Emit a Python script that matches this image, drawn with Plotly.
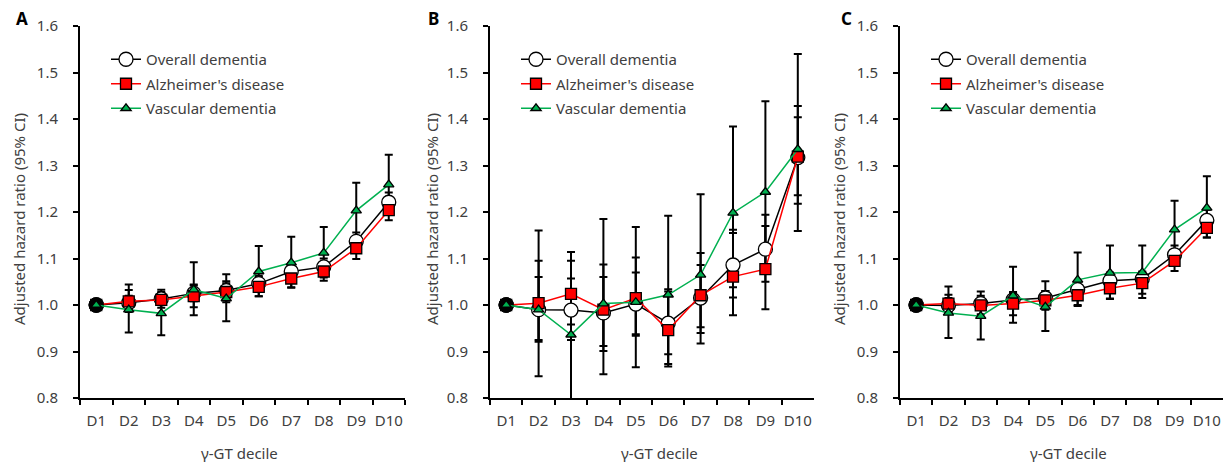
import plotly.graph_objects as go

deciles = ["D1", "D2", "D3", "D4", "D5", "D6", "D7", "D8", "D9", "D10"]
series_names = ["Overall dementia", "Alzheimer's disease", "Vascular dementia"]
panel_labels = ["A", "B", "C"]
y_ticks = [0.8, 0.9, 1.0, 1.1, 1.2, 1.3, 1.4, 1.5, 1.6]

# Panel A
a_overall = [1.0, 1.005, 1.013, 1.025, 1.031, 1.046, 1.072, 1.082, 1.137, 1.221]
a_overall_lo = [1.0, 0.990, 1.000, 1.008, 1.015, 1.030, 1.055, 1.065, 1.118, 1.200]
a_overall_hi = [1.0, 1.020, 1.026, 1.042, 1.047, 1.063, 1.090, 1.100, 1.156, 1.242]
a_ad = [1.0, 1.008, 1.011, 1.019, 1.028, 1.039, 1.057, 1.072, 1.122, 1.204]
a_ad_lo = [1.0, 0.985, 0.994, 0.995, 1.006, 1.019, 1.037, 1.052, 1.099, 1.182]
a_ad_hi = [1.0, 1.032, 1.028, 1.044, 1.051, 1.060, 1.078, 1.092, 1.145, 1.227]
a_vd = [1.0, 0.990, 0.982, 1.033, 1.014, 1.072, 1.091, 1.112, 1.203, 1.259]
a_vd_lo = [1.0, 0.941, 0.935, 0.978, 0.965, 1.019, 1.038, 1.059, 1.146, 1.198]
a_vd_hi = [1.0, 1.044, 1.033, 1.092, 1.066, 1.127, 1.147, 1.168, 1.263, 1.323]

# Panel B
b_overall = [1.0, 0.990, 0.989, 0.983, 1.002, 0.961, 1.015, 1.086, 1.120, 1.317]
b_overall_lo = [1.0, 0.925, 0.925, 0.912, 0.937, 0.894, 0.952, 1.016, 1.050, 1.236]
b_overall_hi = [1.0, 1.060, 1.057, 1.060, 1.070, 1.034, 1.086, 1.162, 1.194, 1.404]
b_ad = [1.0, 1.004, 1.024, 0.990, 1.015, 0.946, 1.021, 1.061, 1.077, 1.319]
b_ad_lo = [1.0, 0.921, 0.958, 0.901, 0.934, 0.868, 0.940, 0.978, 0.991, 1.218]
b_ad_hi = [1.0, 1.095, 1.095, 1.087, 1.102, 1.029, 1.112, 1.155, 1.170, 1.428]
b_vd = [1.0, 0.990, 0.936, 1.003, 1.006, 1.022, 1.065, 1.198, 1.243, 1.335]
b_vd_lo = [1.0, 0.847, 0.786, 0.851, 0.866, 0.873, 0.917, 1.038, 1.074, 1.159]
b_vd_hi = [1.0, 1.160, 1.114, 1.185, 1.168, 1.192, 1.238, 1.384, 1.438, 1.540]

# Panel C
c_overall = [1.0, 0.999, 1.003, 1.011, 1.015, 1.033, 1.052, 1.056, 1.108, 1.182]
c_overall_lo = [1.0, 0.985, 0.990, 0.997, 1.000, 1.018, 1.036, 1.040, 1.090, 1.160]
c_overall_hi = [1.0, 1.015, 1.016, 1.025, 1.030, 1.050, 1.070, 1.072, 1.128, 1.205]
c_ad = [1.0, 1.003, 0.999, 1.003, 1.010, 1.021, 1.036, 1.047, 1.095, 1.166]
c_ad_lo = [1.0, 0.985, 0.980, 0.978, 0.990, 1.000, 1.014, 1.024, 1.073, 1.145]
c_ad_hi = [1.0, 1.022, 1.020, 1.028, 1.030, 1.043, 1.058, 1.070, 1.118, 1.188]
c_vd = [1.0, 0.983, 0.976, 1.020, 0.996, 1.054, 1.069, 1.070, 1.162, 1.209]
c_vd_lo = [1.0, 0.929, 0.926, 0.962, 0.944, 0.998, 1.013, 1.015, 1.103, 1.145]
c_vd_hi = [1.0, 1.040, 1.029, 1.082, 1.051, 1.113, 1.128, 1.128, 1.224, 1.277]

panels = [
    [(a_overall, a_overall_lo, a_overall_hi), (a_ad, a_ad_lo, a_ad_hi), (a_vd, a_vd_lo, a_vd_hi)],
    [(b_overall, b_overall_lo, b_overall_hi), (b_ad, b_ad_lo, b_ad_hi), (b_vd, b_vd_lo, b_vd_hi)],
    [(c_overall, c_overall_lo, c_overall_hi), (c_ad, c_ad_lo, c_ad_hi), (c_vd, c_vd_lo, c_vd_hi)],
]

W, H = 1224, 462
FONT = "Noto Sans"
TXT = "#404040"
line_colors = ["#000000", "#ff0000", "#00b050"]
fill_colors = ["#ffffff", "#ff0000", "#00b050"]
symbols = ["circle", "square", "triangle-up"]
sizes = [14, 11, 9]

x_px = [(80, 405), (490, 814), (900, 1223)]
y_dom = [1 - 398 / H, 1 - 26 / H]

fig = go.Figure()

for p, series in enumerate(panels):
    xa = "x" if p == 0 else f"x{p + 1}"
    ya = "y" if p == 0 else f"y{p + 1}"
    lg = "legend" if p == 0 else f"legend{p + 1}"
    # error bars first, beneath markers
    for s, (pt, lo, hi) in enumerate(series):
        fig.add_trace(go.Scatter(
            x=deciles, y=pt, xaxis=xa, yaxis=ya, mode="markers",
            marker=dict(size=1, opacity=0), showlegend=False, hoverinfo="skip",
            legend=lg, legendgroup=f"g{s}",
            error_y=dict(type="data", symmetric=False,
                         array=[h - v for h, v in zip(hi, pt)],
                         arrayminus=[v - l for v, l in zip(pt, lo)],
                         color="#000000", thickness=2, width=4),
        ))
    for s, (pt, lo, hi) in enumerate(series):
        fig.add_trace(go.Scatter(
            x=deciles, y=pt, xaxis=xa, yaxis=ya, mode="lines+markers",
            name=series_names[s], legend=lg, legendgroup=f"g{s}",
            line=dict(color=line_colors[s], width=1.5),
            marker=dict(symbol=symbols[s], size=sizes[s], color=fill_colors[s],
                        line=dict(color="#000000", width=1.3)),
        ))
        if s < 2:
            # reference decile (D1) drawn as a solid black marker
            fig.add_trace(go.Scatter(
                x=deciles[:1], y=pt[:1], xaxis=xa, yaxis=ya, mode="markers",
                showlegend=False, hoverinfo="skip", legend=lg, legendgroup=f"g{s}",
                marker=dict(symbol="circle", size=sizes[0], color="#000000",
                            line=dict(color="#000000", width=1.3)),
            ))

layout = dict(
    width=W, height=H, margin=dict(l=0, r=0, t=0, b=0, autoexpand=False),
    paper_bgcolor="white", plot_bgcolor="white",
    font=dict(family=FONT, color=TXT, size=15),
    annotations=[],
)

xtitle_cx = [239, 659, 1068]
ytitle_cx = [19, 432, 839]
label_cx = [22, 433, 846]
for p in range(3):
    sfx = "" if p == 0 else str(p + 1)
    x0, x1 = x_px[p]
    layout["xaxis" + sfx] = dict(
        domain=[x0 / W, x1 / W], anchor="y" + sfx, type="category",
        tickson="boundaries", ticks="outside", ticklen=5, tickwidth=2, tickcolor="#000000",
        showline=True, linecolor="#000000", linewidth=2, showgrid=False, zeroline=False,
        tickfont=dict(family=FONT, size=15, color=TXT), ticklabelstandoff=8,
        tickangle=0, automargin=False, range=[-0.5, 9.5],
    )
    layout["yaxis" + sfx] = dict(
        domain=y_dom, anchor="x" + sfx, range=[0.8, 1.6], tickvals=y_ticks,
        tickformat=".1f", ticks="outside", ticklen=5, tickwidth=2, tickcolor="#000000",
        showline=True, linecolor="#000000", linewidth=2, showgrid=False, zeroline=False,
        tickfont=dict(family=FONT, size=15, color=TXT), ticklabelstandoff=12,
        automargin=False,
    )
    lgkey = "legend" if p == 0 else f"legend{p + 1}"
    layout[lgkey] = dict(
        x=(x0 + 26) / W, y=1 - 43 / H, xanchor="left", yanchor="top",
        bgcolor="rgba(0,0,0,0)", font=dict(family=FONT, size=15, color=TXT),
        traceorder="grouped", tracegroupgap=2,
    )
    layout["annotations"].append(dict(
        text="γ-GT decile", x=xtitle_cx[p] / W, y=1 - 453 / H, xref="paper", yref="paper",
        showarrow=False, xanchor="center", yanchor="middle",
        font=dict(family=FONT, size=15, color=TXT)))
    layout["annotations"].append(dict(
        text="Adjusted hazard ratio (95% CI)", x=ytitle_cx[p] / W, y=1 - 219 / H,
        xref="paper", yref="paper", showarrow=False, textangle=-90,
        xanchor="center", yanchor="middle",
        font=dict(family=FONT, size=15, color=TXT)))
    layout["annotations"].append(dict(
        text="<b>" + panel_labels[p] + "</b>", x=label_cx[p] / W, y=1 - 19 / H,
        xref="paper", yref="paper", showarrow=False, xanchor="center", yanchor="middle",
        font=dict(family=FONT, size=17, color="#000000")))

fig.update_layout(**layout)
fig.write_html("out.html")
